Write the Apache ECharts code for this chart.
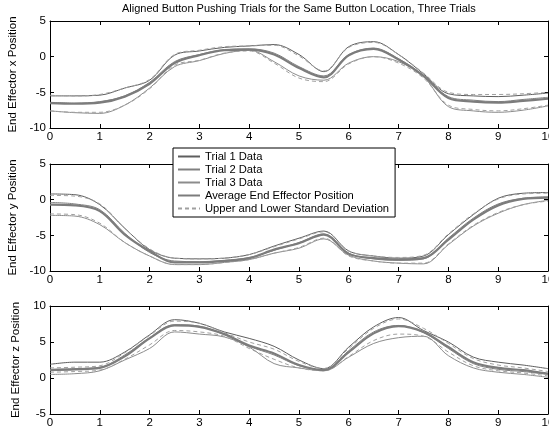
<!DOCTYPE html>
<html>
<head>
<meta charset="utf-8">
<script src="https://cdn.jsdelivr.net/npm/echarts@6/dist/echarts.min.js"></script>
<style>
html,body{margin:0;padding:0;background:#fff;}
#chart{width:549px;height:432px;}
</style>
</head>
<body>
<div id="chart"></div>
<script>
// time samples (s)
var xs = [0,0.5,1,1.5,2,2.5,3,3.5,4,4.5,5,5.5,6,6.5,7,7.5,8,8.5,9,9.5,10];

// end effector x
var xTrial1 = [-5.5,-5.5,-5.4,-4.4,-3.3,0.2,0.8,1.3,1.5,1.7,0.3,-2.1,1.4,2.1,0.3,-2.4,-5.2,-5.5,-5.6,-5.4,-5.1];
var xTrial2 = [-6.4,-6.5,-6.3,-5.5,-3.6,-0.7,0.3,1.0,1.1,0.5,-1.4,-2.7,0.3,1.2,-0.3,-2.6,-5.6,-6.1,-6.3,-6.0,-5.7];
var xTrial3 = [-7.6,-7.85,-7.95,-6.8,-4.4,-1.4,-0.55,0.45,0.9,-0.7,-2.7,-3.3,-0.9,0.0,-0.7,-2.8,-7.0,-7.6,-7.8,-7.5,-6.9];
var xAvg    = [-6.5,-6.6,-6.45,-5.6,-3.8,-0.9,0.2,0.9,1.0,0.3,-1.6,-2.9,0.2,1.1,-0.4,-2.7,-5.8,-6.3,-6.45,-6.2,-5.9];
var xUpper  = [-5.4,-5.5,-5.3,-4.4,-3.2,0.3,0.9,1.4,1.5,1.6,0.1,-2.0,1.3,2.0,0.3,-2.3,-5.0,-5.3,-5.3,-5.2,-5.0];
var xLower  = [-7.6,-7.8,-7.8,-6.8,-4.5,-1.2,-0.5,0.5,0.8,-0.9,-3.0,-3.5,-1.0,0.0,-0.9,-3.0,-6.8,-7.4,-7.6,-7.3,-6.8];

// end effector y
var yTrial1 = [0.8,0.7,-0.7,-4.0,-7.0,-8.2,-8.3,-8.2,-7.7,-6.5,-5.4,-4.4,-7.2,-7.9,-8.2,-7.9,-4.9,-2.1,0.2,0.9,1.0];
var yTrial2 = [-0.4,-0.6,-1.4,-4.7,-7.4,-8.6,-8.7,-8.5,-8.1,-7.1,-6.0,-4.8,-7.5,-8.3,-8.5,-8.3,-5.4,-2.6,-0.6,0.2,0.4];
var yTrial3 = [-2.2,-2.3,-3.5,-6.0,-7.9,-9.1,-9.1,-8.8,-8.4,-7.5,-6.8,-5.5,-7.8,-8.6,-8.9,-9.0,-6.3,-3.7,-1.9,-0.7,-0.1];
var yAvg    = [-0.7,-0.8,-1.6,-4.9,-7.2,-8.8,-8.8,-8.6,-8.2,-7.0,-6.1,-4.9,-7.6,-8.2,-8.4,-8.2,-5.6,-2.8,-0.8,0.1,0.3];
var yUpper  = [0.6,0.5,-0.6,-4.0,-6.9,-8.2,-8.3,-8.2,-7.7,-6.6,-5.5,-4.5,-7.2,-7.9,-8.1,-7.8,-4.8,-2.0,0.1,0.8,0.9];
var yLower  = [-2.0,-2.1,-3.3,-6.0,-7.9,-9.1,-9.1,-8.8,-8.4,-7.5,-6.7,-5.4,-7.9,-8.6,-8.9,-8.9,-6.2,-3.6,-1.8,-0.7,-0.2];

// end effector z
var zTrial1 = [1.9,2.2,2.2,3.6,6.0,8.1,7.6,6.4,5.5,4.4,2.5,1.3,4.3,7.1,8.4,6.6,5.0,2.9,2.2,1.8,1.3];
var zTrial2 = [1.2,1.3,1.5,3.2,5.6,7.4,7.2,6.0,4.4,3.2,1.7,1.1,3.8,6.4,7.3,6.3,4.1,2.0,1.2,0.9,0.5];
var zTrial3 = [0.5,0.6,1.0,2.5,4.1,6.4,6.1,5.7,4.3,2.0,1.4,1.0,2.9,4.8,5.6,5.8,3.1,1.4,0.8,0.5,0.1];
var zAvg    = [1.1,1.2,1.4,3.0,5.5,7.3,7.1,6.1,4.5,3.4,1.8,1.1,3.6,6.2,7.2,6.4,4.3,2.2,1.4,1.1,0.6];
var zUpper  = [1.4,1.5,1.7,3.5,5.9,7.9,7.6,6.3,5.0,4.0,2.3,1.3,4.1,6.9,8.2,6.9,4.8,2.7,1.8,1.4,0.9];
var zLower  = [0.8,0.9,1.1,2.6,4.6,6.6,6.4,5.8,4.1,2.6,1.4,1.0,3.0,5.2,6.1,5.8,3.6,1.7,1.0,0.7,0.3];

var legendNames = ["Trial 1 Data","Trial 2 Data","Trial 3 Data","Average End Effector Position","Upper and Lower Standard Deviation"];
var axisNames = ["End Effector x Position","End Effector y Position","End Effector z Position"];
var yRanges = [[-10,5],[-10,5],[-5,10]];

var FONT = "Liberation Sans";

function pairs(vals){
    var out = [];
    for (var i=0;i<xs.length;i++){
        out.push([xs[i], vals[i]]);
    }
    return out;
}

var plots = [
    [xTrial1,xTrial2,xTrial3,xAvg,xUpper,xLower],
    [yTrial1,yTrial2,yTrial3,yAvg,yUpper,yLower],
    [zTrial1,zTrial2,zTrial3,zAvg,zUpper,zLower]
];

var grids = [
    {left:50, top:21, width:498, height:107, outerBoundsMode:"none"},
    {left:50, top:164, width:498, height:107, outerBoundsMode:"none"},
    {left:50, top:306, width:498, height:108, outerBoundsMode:"none"}
];
var nameGaps = [28,28,16];

var xAxes = [], yAxes = [], series = [];
for (var g=0; g<3; g++){
    // bottom axis with labels
    xAxes.push({
        type:"value", gridIndex:g, min:0, max:10, interval:1,
        axisLine:{onZero:false,lineStyle:{color:"#000",width:1}},
        axisTick:{inside:true,length:4,lineStyle:{color:"#000"}},
        axisLabel:{color:"#000",fontSize:11.5,fontFamily:FONT,margin:3},
        splitLine:{show:false}
    });
    // top box edge
    xAxes.push({
        type:"value", gridIndex:g, min:0, max:10, interval:1, position:"top",
        axisLine:{onZero:false,lineStyle:{color:"#000",width:1}},
        axisTick:{inside:true,length:4,lineStyle:{color:"#000"}},
        axisLabel:{show:false},
        splitLine:{show:false}
    });
    yAxes.push({
        type:"value", gridIndex:g, min:yRanges[g][0], max:yRanges[g][1], interval:5,
        name:axisNames[g], nameLocation:"middle", nameGap:nameGaps[g],
        nameTextStyle:{color:"#000",fontSize:11.5,fontFamily:FONT},
        axisLine:{onZero:false,lineStyle:{color:"#000",width:1}},
        axisTick:{inside:true,length:4,lineStyle:{color:"#000"}},
        axisLabel:{color:"#000",fontSize:11.5,fontFamily:FONT,margin:4},
        splitLine:{show:false}
    });
    yAxes.push({
        type:"value", gridIndex:g, min:yRanges[g][0], max:yRanges[g][1], interval:5, position:"right",
        axisLine:{onZero:false,lineStyle:{color:"#000",width:1}},
        axisTick:{inside:true,length:4,lineStyle:{color:"#000"}},
        axisLabel:{show:false},
        splitLine:{show:false}
    });

    var d = plots[g];
    var styles = [
        {name:legendNames[0], color:"#5e5e5e", width:1, type:"solid"},
        {name:legendNames[1], color:"#808080", width:1, type:"solid"},
        {name:legendNames[2], color:"#8c8c8c", width:1, type:"solid"},
        {name:legendNames[3], color:"#7c7c7c", width:2.2, type:"solid"},
        {name:legendNames[4], color:"#a0a0a0", width:1, type:[4,3]},
        {name:legendNames[4], color:"#a0a0a0", width:1, type:[4,3]}
    ];
    for (var s=0; s<6; s++){
        series.push({
            name:styles[s].name, type:"line",
            xAxisIndex:g*2, yAxisIndex:g*2,
            data:pairs(d[s]),
            smooth:0.35, symbol:"none", showSymbol:false,
            lineStyle:{color:styles[s].color, width:styles[s].width, type:styles[s].type},
            itemStyle:{color:styles[s].color},
            z: s==3 ? 3 : 2
        });
    }
}

var chart = echarts.init(document.getElementById("chart"));
chart.setOption({
    animation:false,
    backgroundColor:"#fff",
    title:{
        text:"Aligned Button Pushing Trials for the Same Button Location, Three Trials",
        left:122, top:3, padding:0,
        textStyle:{color:"#000",fontSize:11,fontWeight:"normal",fontFamily:FONT}
    },
    legend:{
        data:legendNames, orient:"vertical", left:173, top:148,
        padding:[3,6,3,4], itemGap:2, itemWidth:22, itemHeight:9,
        itemStyle:{opacity:0},
        backgroundColor:"#fff", borderColor:"#000", borderWidth:1, borderRadius:0,
        textStyle:{color:"#000",fontSize:11.2,fontFamily:FONT},
        z:20
    },
    grid:grids,
    xAxis:xAxes,
    yAxis:yAxes,
    series:series
});
</script>
</body>
</html>
